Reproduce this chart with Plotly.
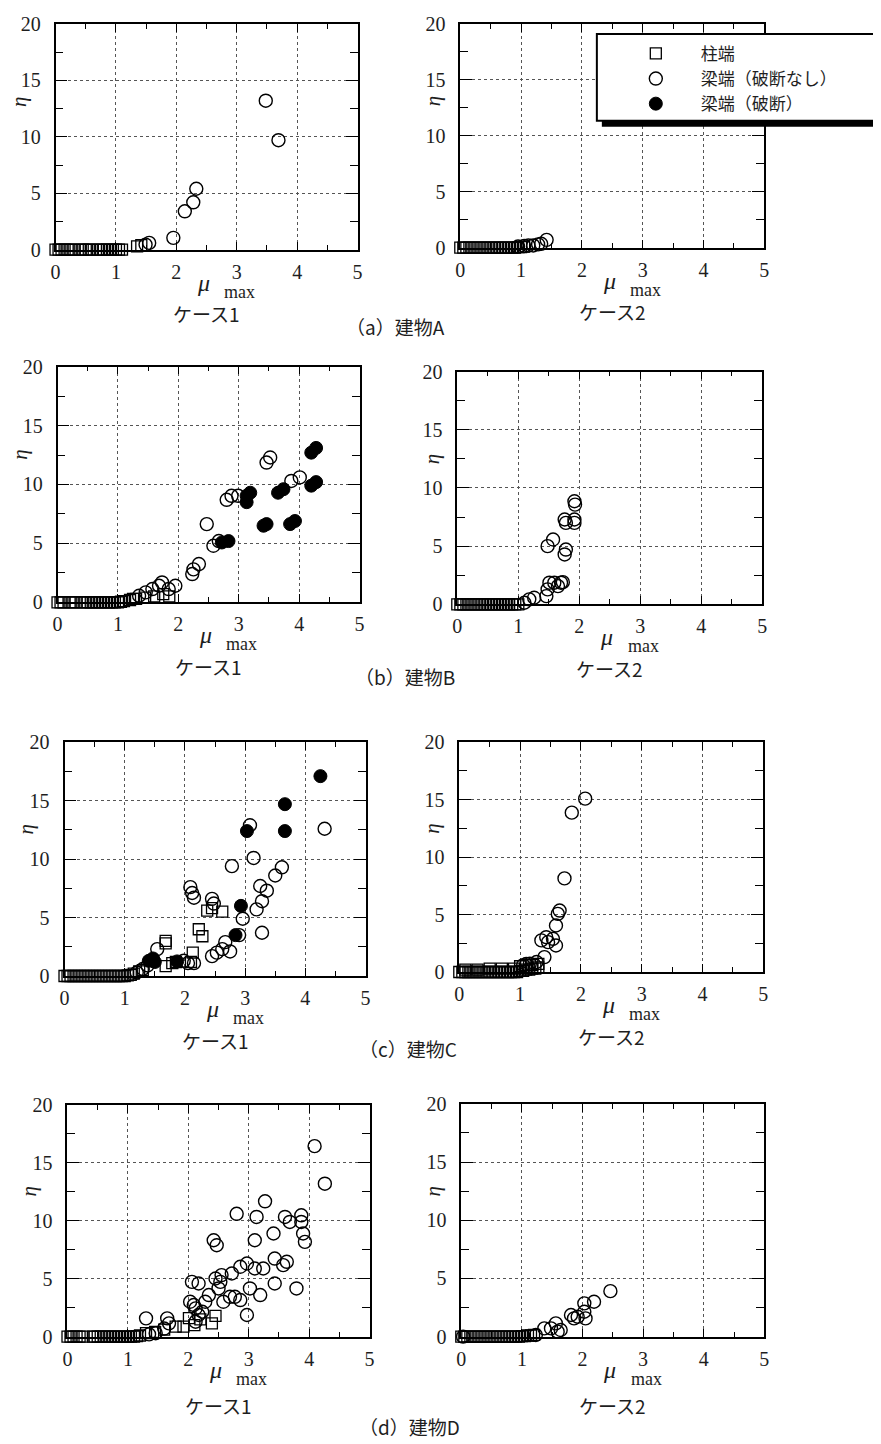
import plotly.graph_objects as go

# ---------------- data ----------------
# Building A, case 1
A1_sq_x = [0.0, 0.05, 0.1, 0.15, 0.2, 0.25, 0.3, 0.4, 0.45, 0.5, 0.55, 0.6, 0.7, 0.75, 0.8, 0.85, 0.9, 0.95, 1.0, 1.05, 1.1, 1.35, 1.42]
A1_sq_y = [0, 0, 0, 0, 0, 0, 0, 0, 0, 0, 0, 0, 0, 0, 0, 0, 0, 0, 0, 0, 0, 0.3, 0.4]
A1_oc_x = [1.49, 1.55, 1.95, 2.14, 2.28, 2.33, 3.48, 3.69]
A1_oc_y = [0.45, 0.6, 1.05, 3.4, 4.2, 5.4, 13.2, 9.7]
A1_fc_x = []
A1_fc_y = []

# Building A, case 2
A2_sq_x = [0.0, 0.05, 0.1, 0.15, 0.2, 0.25, 0.3, 0.35, 0.4, 0.45, 0.5, 0.55, 0.6, 0.65, 0.7, 0.75, 0.8, 0.85, 0.9, 0.95, 1.0, 1.05]
A2_sq_y = [0, 0, 0, 0, 0, 0, 0, 0, 0, 0, 0, 0, 0, 0, 0, 0, 0, 0, 0, 0.05, 0.05, 0.1]
A2_oc_x = [0.95, 1.05, 1.12, 1.2, 1.28, 1.33, 1.42]
A2_oc_y = [0.1, 0.15, 0.2, 0.2, 0.3, 0.35, 0.7]
A2_fc_x = []
A2_fc_y = []

# Building B, case 1
B1_sq_x = [0.0, 0.05, 0.1, 0.2, 0.25, 0.3, 0.4, 0.45, 0.5, 0.55, 0.6, 0.65, 0.7, 0.75, 0.8, 0.85, 0.9, 0.95, 1.0, 1.05, 1.1, 1.2, 1.25, 1.3, 1.45, 1.6, 1.75, 1.85]
B1_sq_y = [0, 0, 0, 0, 0, 0, 0, 0, 0, 0, 0, 0, 0, 0, 0, 0, 0, 0, 0, 0.05, 0.1, 0.2, 0.3, 0.3, 0.4, 0.5, 0.7, 0.5]
B1_oc_x = [1.35, 1.46, 1.57, 1.68, 1.73, 1.84, 1.95, 2.23, 2.25, 2.34, 2.47, 2.58, 2.67, 2.80, 2.88, 2.99, 3.46, 3.52, 3.87, 4.01]
B1_oc_y = [0.56, 0.85, 1.13, 1.41, 1.69, 1.13, 1.41, 2.4, 2.8, 3.25, 6.64, 4.8, 5.2, 8.7, 9.04, 9.04, 11.86, 12.29, 10.3, 10.6]
B1_fc_x = [2.72, 2.83, 3.13, 3.19, 3.13, 3.41, 3.46, 3.65, 3.74, 3.85, 3.93, 4.20, 4.28, 4.20, 4.28]
B1_fc_y = [5.08, 5.2, 9.04, 9.3, 8.5, 6.5, 6.64, 9.3, 9.6, 6.64, 6.9, 12.7, 13.1, 9.9, 10.2]

# Building B, case 2
B2_sq_x = [0.0, 0.05, 0.1, 0.15, 0.2, 0.25, 0.3, 0.35, 0.4, 0.45, 0.5, 0.55, 0.6, 0.65, 0.7, 0.75, 0.8, 0.85, 0.9, 0.95, 1.0]
B2_sq_y = [0, 0, 0, 0, 0, 0, 0, 0, 0, 0, 0, 0, 0, 0, 0, 0, 0, 0, 0, 0, 0]
B2_oc_x = [1.10, 1.18, 1.26, 1.46, 1.48, 1.51, 1.59, 1.65, 1.70, 1.73, 1.48, 1.57, 1.76, 1.78, 1.76, 1.78, 1.92, 1.92, 1.92, 1.93]
B2_oc_y = [0.14, 0.43, 0.57, 0.71, 1.29, 1.86, 1.86, 1.57, 1.86, 1.91, 5.0, 5.57, 4.29, 4.71, 7.29, 7.0, 7.0, 7.29, 8.86, 8.57]
B2_fc_x = []
B2_fc_y = []

# Building C, case 1
C1_sq_x = [0.0, 0.05, 0.1, 0.15, 0.2, 0.25, 0.3, 0.35, 0.4, 0.45, 0.5, 0.55, 0.6, 0.65, 0.7, 0.75, 0.8, 0.85, 0.9, 0.95, 1.0, 1.05, 1.1, 1.15, 1.24, 1.3,
           1.68, 1.68, 1.68, 1.79, 1.85, 2.1, 2.13, 2.23, 2.29, 2.37, 2.45, 2.62]
C1_sq_y = [0, 0, 0, 0, 0, 0, 0, 0, 0, 0, 0, 0, 0, 0, 0, 0, 0, 0, 0, 0, 0, 0.05, 0.1, 0.2, 0.4, 0.5,
           3.0, 2.8, 0.85, 1.1, 1.2, 1.2, 2.0, 4.0, 3.4, 5.6, 5.8, 5.5]
C1_oc_x = [1.2, 1.3, 1.38, 1.54, 1.98, 2.05, 2.15, 2.09, 2.12, 2.15, 2.45, 2.48, 2.45, 2.53, 2.62, 2.67, 2.75, 2.78, 2.9, 2.96,
           3.08, 3.14, 3.28, 3.19, 3.28, 3.25, 3.36, 3.5, 3.61, 4.32]
C1_oc_y = [0.3, 0.6, 0.9, 2.3, 1.3, 1.1, 1.1, 7.6, 7.1, 6.7, 6.6, 6.2, 1.7, 2.0, 2.3, 2.9, 2.1, 9.4, 3.5, 4.9,
           12.9, 10.1, 3.7, 5.7, 6.4, 7.7, 7.3, 8.6, 9.3, 12.6]
C1_fc_x = [1.40, 1.47, 1.5, 1.87, 2.84, 2.93, 3.03, 3.66, 3.66, 4.25]
C1_fc_y = [1.3, 1.5, 1.2, 1.25, 3.5, 6.0, 12.4, 14.7, 12.4, 17.1]

# Building C, case 2
C2_sq_x = [0.0, 0.05, 0.1, 0.15, 0.2, 0.25, 0.3, 0.35, 0.4, 0.45, 0.5, 0.55, 0.6, 0.65, 0.7, 0.75, 0.8, 0.85, 0.9, 0.95, 1.0, 1.05, 1.1, 1.15, 1.2, 1.25, 1.3,
           0.1, 0.3, 0.5, 0.7, 0.9, 1.0, 1.1, 1.2, 1.3]
C2_sq_y = [0, 0, 0, 0, 0, 0, 0, 0, 0, 0, 0, 0, 0, 0, 0, 0, 0, 0, 0, 0, 0.1, 0.1, 0.2, 0.2, 0.3, 0.3, 0.4,
           0.2, 0.2, 0.3, 0.3, 0.3, 0.5, 0.6, 0.6, 0.7]
C2_oc_x = [1.05, 1.1, 1.16, 1.27, 1.40, 1.35, 1.43, 1.46, 1.54, 1.59, 1.59, 1.62, 1.65, 1.73, 1.85, 2.07]
C2_oc_y = [0.6, 0.7, 0.72, 0.87, 1.30, 2.75, 3.03, 2.60, 2.89, 2.31, 4.05, 5.06, 5.35, 8.15, 13.87, 15.09]
C2_fc_x = []
C2_fc_y = []

# Building D, case 1
D1_sq_x = [0.0, 0.05, 0.1, 0.15, 0.2, 0.25, 0.42, 0.45, 0.5, 0.55, 0.6, 0.65, 0.7, 0.75, 0.8, 0.85, 0.9, 0.95, 1.0, 1.05, 1.1, 1.15, 1.2,
           1.3, 1.45, 1.6, 1.79, 1.92, 2.01, 2.1, 2.2, 2.39, 2.45]
D1_sq_y = [0, 0, 0, 0, 0, 0, 0, 0, 0, 0, 0, 0, 0, 0, 0, 0, 0, 0, 0, 0, 0, 0.05, 0.1,
           0.3, 0.4, 0.6, 0.86, 0.86, 1.6, 1.0, 1.5, 1.15, 1.8]
D1_oc_x = [1.35, 1.46, 1.6, 1.68, 1.30, 1.65, 2.06, 2.17, 2.03, 2.09, 2.12, 2.17, 2.12, 2.23, 2.28, 2.34, 2.42, 2.47, 2.45, 2.50,
           2.53, 2.55, 2.58, 2.72, 2.69, 2.77, 2.86, 2.80, 2.86, 2.97, 2.97, 3.02, 3.10, 3.10, 3.13, 3.19, 3.24, 3.27, 3.41, 3.43,
           3.43, 3.57, 3.63, 3.60, 3.68, 3.79, 3.87, 3.87, 3.90, 3.93, 4.09, 4.26]
D1_oc_y = [0.2, 0.3, 0.7, 1.15, 1.58, 1.58, 4.73, 4.59, 3.01, 2.73, 2.44, 1.87, 1.29, 2.15, 3.01, 3.59, 8.32, 7.89, 5.02, 4.16,
           4.73, 5.31, 3.01, 5.45, 3.44, 3.44, 3.16, 10.6, 6.03, 6.31, 1.87, 4.16, 5.88, 8.32, 10.33, 3.59, 5.88, 11.68, 8.90, 6.74,
           4.59, 6.17, 6.46, 10.33, 9.90, 4.16, 10.47, 9.90, 8.90, 8.18, 16.44, 13.2]
D1_fc_x = []
D1_fc_y = []

# Building D, case 2
D2_sq_x = [0.0, 0.05, 0.1, 0.15, 0.2, 0.25, 0.3, 0.35, 0.4, 0.45, 0.5, 0.55, 0.6, 0.65, 0.7, 0.75, 0.8, 0.85, 0.9, 0.95, 1.0, 1.05, 1.1, 1.15, 1.2]
D2_sq_y = [0, 0, 0, 0, 0, 0, 0, 0, 0, 0, 0, 0, 0, 0, 0, 0, 0, 0, 0, 0, 0.05, 0.05, 0.1, 0.1, 0.15]
D2_oc_x = [0.03, 1.23, 1.37, 1.48, 1.56, 1.59, 1.64, 1.81, 1.86, 1.92, 2.03, 2.03, 2.05, 2.19, 2.46]
D2_oc_y = [0.0, 0.14, 0.71, 0.71, 1.14, 0.43, 0.57, 1.86, 1.57, 1.71, 2.86, 2.14, 1.57, 3.0, 3.91]
D2_fc_x = []
D2_fc_y = []

X_TICKS = [0, 1, 2, 3, 4, 5]
Y_TICKS = [0, 5, 10, 15, 20]
LEGEND_NAMES = ["柱端", "梁端（破断なし）", "梁端（破断）"]
CASE_LABELS = ["ケース1", "ケース2"]
ROW_CAPTIONS = ["（a）建物A", "（b）建物B", "（c）建物C", "（d）建物D"]

PANEL_DATA = [
    (A1_sq_x, A1_sq_y, A1_oc_x, A1_oc_y, A1_fc_x, A1_fc_y),
    (A2_sq_x, A2_sq_y, A2_oc_x, A2_oc_y, A2_fc_x, A2_fc_y),
    (B1_sq_x, B1_sq_y, B1_oc_x, B1_oc_y, B1_fc_x, B1_fc_y),
    (B2_sq_x, B2_sq_y, B2_oc_x, B2_oc_y, B2_fc_x, B2_fc_y),
    (C1_sq_x, C1_sq_y, C1_oc_x, C1_oc_y, C1_fc_x, C1_fc_y),
    (C2_sq_x, C2_sq_y, C2_oc_x, C2_oc_y, C2_fc_x, C2_fc_y),
    (D1_sq_x, D1_sq_y, D1_oc_x, D1_oc_y, D1_fc_x, D1_fc_y),
    (D2_sq_x, D2_sq_y, D2_oc_x, D2_oc_y, D2_fc_x, D2_fc_y),
]

# ---------------- layout geometry (target pixels: left, right, top, bottom) ----------------
OFF = 8                                  # page body margin
W, H = 873, 1444
CAL_X = (2.4, 0.9916)                    # empirical screen calibration
CAL_Y = (11.2, 0.9857)
PANELS = [
    (53, 356, 14, 250), (459, 764, 13, 248),
    (55, 358, 367, 603), (456, 762, 372, 605),
    (62, 364, 743, 977), (458, 763, 743, 973),
    (65, 368, 1106, 1338), (460, 764, 1105, 1338),
]
CASE_OFFSETS = [64, 64, 64, 64, 65, 65, 69, 69]
ETA_X = [17, 432, 17, 431, 23, 431, 26, 432]
CAPTION_POS = [(394, 327), (404, 677), (407, 1050), (408, 1428)]

SERIF = "Liberation Serif"
JP = "Noto Sans CJK JP"
INK = "#1e1e1e"


def fx_(xp):
    return (xp - CAL_X[0]) / CAL_X[1] - OFF


def fy_(yp):
    return max((yp - CAL_Y[0]) / CAL_Y[1] - OFF, 5.0)


def px(xp):
    return fx_(xp) / W


def py(yp):
    return 1 - fy_(yp) / H


fig = go.Figure()
layout = dict(
    width=W, height=H,
    margin=dict(l=0, r=0, t=0, b=0),
    paper_bgcolor="white", plot_bgcolor="white",
    showlegend=True,
)
annotations = []
shapes = []

for i, ((l, r, t, b), data) in enumerate(zip(PANELS, PANEL_DATA), start=1):
    sx, sy, ox, oy, fx, fy = data
    xa = "x" if i == 1 else f"x{i}"
    ya = "y" if i == 1 else f"y{i}"
    show = (i == 3)
    fig.add_trace(go.Scatter(x=sx, y=sy, mode="markers", xaxis=xa, yaxis=ya, name=LEGEND_NAMES[0],
                             showlegend=show, cliponaxis=False,
                             marker=dict(symbol="square-open", size=11, color="black", line=dict(width=1.3))))
    fig.add_trace(go.Scatter(x=ox, y=oy, mode="markers", xaxis=xa, yaxis=ya, name=LEGEND_NAMES[1],
                             showlegend=show, cliponaxis=False,
                             marker=dict(symbol="circle-open", size=13, color="black", line=dict(width=1.4))))
    fig.add_trace(go.Scatter(x=fx, y=fy, mode="markers", xaxis=xa, yaxis=ya, name=LEGEND_NAMES[2],
                             showlegend=show, cliponaxis=False,
                             marker=dict(symbol="circle", size=13, color="black", line=dict(width=1, color="black"))))

    xkey = "xaxis" if i == 1 else f"xaxis{i}"
    ykey = "yaxis" if i == 1 else f"yaxis{i}"
    common = dict(showline=True, linecolor="black", linewidth=1.8, mirror="ticks",
                  ticks="inside", tickcolor="black", tickwidth=1.4,
                  showgrid=True, gridcolor="#555", griddash="dot", gridwidth=1,
                  zeroline=False, tickfont=dict(family=SERIF, size=20, color=INK))
    layout[xkey] = dict(common, domain=[px(l), px(r)], range=[0, 5], anchor=ya,
                        tickvals=X_TICKS, ticklen=8, ticklabelstandoff=3,
                        minor=dict(ticks="inside", dtick=0.5, ticklen=5, tickcolor="black", tickwidth=1.2, showgrid=False))
    layout[ykey] = dict(common, domain=[py(b), py(t)], range=[0, 20], anchor=xa,
                        tickvals=Y_TICKS, ticklen=12, ticklabelstandoff=9,
                        minor=dict(ticks="inside", dtick=2.5, ticklen=8, tickcolor="black", tickwidth=1.2, showgrid=False))

    left_col = (i % 2 == 1)
    unit = (r - l) / 5.0
    eta_y = b - 12.5 * (b - t) / 20.0
    annotations.append(dict(x=px(ETA_X[i - 1]), xref="paper", y=py(eta_y), yref="paper", text="<i>η</i>",
                            showarrow=False, xanchor="center", yanchor="middle", textangle=-90,
                            font=dict(family=SERIF, size=21, color=INK)))
    annotations.append(dict(x=px(l + 2.45 * unit), xref="paper", y=py(b + 33), yref="paper", text="<i>μ</i>",
                            showarrow=False, xanchor="center", yanchor="middle",
                            font=dict(family=SERIF, size=24, color=INK)))
    annotations.append(dict(x=px(l + 3.05 * unit), xref="paper", y=py(b + 42), yref="paper", text="max",
                            showarrow=False, xanchor="center", yanchor="middle",
                            font=dict(family=SERIF, size=18, color=INK)))
    annotations.append(dict(x=px(l + 2.5 * unit), xref="paper", y=py(b + CASE_OFFSETS[i - 1]), yref="paper",
                            text=CASE_LABELS[0 if left_col else 1], showarrow=False,
                            xanchor="center", yanchor="middle",
                            font=dict(family=JP, size=19, color=INK)))

for (cx, cy), cap in zip(CAPTION_POS, ROW_CAPTIONS):
    annotations.append(dict(x=px(cx), y=py(cy), xref="paper", yref="paper", text=cap, showarrow=False,
                            xanchor="center", yanchor="middle",
                            font=dict(family=JP, size=19, color=INK)))

# legend box with drop shadow
BOX = (596, 879, 34, 121)
shapes.append(dict(type="rect", xref="paper", yref="paper", layer="above",
                   x0=px(BOX[0] + 5), x1=px(BOX[1] + 6), y0=py(BOX[3] + 6), y1=py(BOX[2] + 6),
                   fillcolor="black", line=dict(width=0)))
shapes.append(dict(type="rect", xref="paper", yref="paper", layer="above",
                   x0=px(BOX[0]), x1=px(BOX[1]), y0=py(BOX[3]), y1=py(BOX[2]),
                   fillcolor="white", line=dict(color="black", width=2)))

layout["annotations"] = annotations
layout["shapes"] = shapes
layout["legend"] = dict(x=px(610), y=py(36), xanchor="left", yanchor="top",
                        bgcolor="rgba(0,0,0,0)", borderwidth=0, itemwidth=80,
                        tracegroupgap=0, traceorder="normal",
                        font=dict(family=JP, size=17, color=INK))
fig.update_layout(**layout)
fig.write_html("out.html")
